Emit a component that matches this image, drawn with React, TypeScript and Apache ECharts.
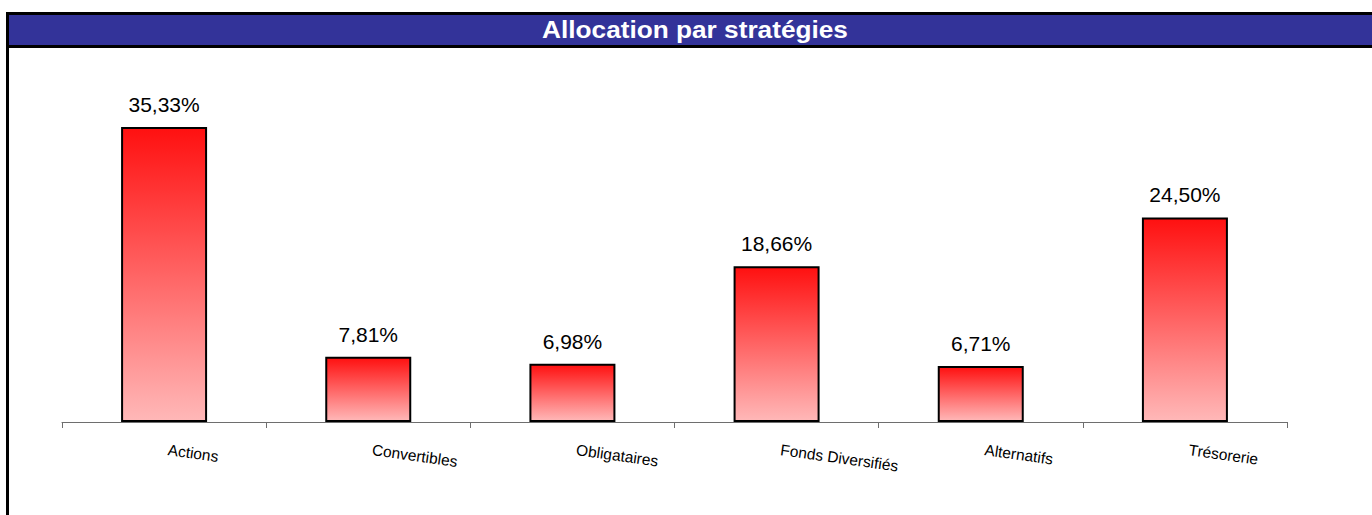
import React, { useEffect, useRef } from "react";
import * as echarts from "echarts";

const categories = ["Actions", "Convertibles", "Obligataires", "Fonds Diversifiés", "Alternatifs", "Trésorerie"];
const values = [35.33, 7.81, 6.98, 18.66, 6.71, 24.5];
const titleText = "Allocation par stratégies";

export default function App() {
  const ref = useRef<HTMLDivElement>(null);
  useEffect(() => {
    const chart = echarts.init(ref.current!, null, { renderer: "svg" });
    chart.setOption({
      animation: false,
      backgroundColor: "#ffffff",
      graphic: [
        { type: "rect", left: 6, top: 12, shape: { width: 1380, height: 3 }, style: { fill: "#000" } },
        { type: "rect", left: 6, top: 12, shape: { width: 3, height: 510 }, style: { fill: "#000" } },
        { type: "rect", left: 9, top: 15, shape: { width: 1370, height: 30 }, style: { fill: "#333399" } },
        { type: "rect", left: 9, top: 45, shape: { width: 1370, height: 3 }, style: { fill: "#000" } },
        {
          type: "text",
          x: 695,
          y: 30,
          scaleX: 1.14,
          style: {
            text: titleText,
            fill: "#ffffff",
            font: "bold 23px 'Liberation Sans', Arial, sans-serif",
            align: "center",
            verticalAlign: "middle",
          },
        },
      ],
      grid: { left: 62, right: 85, top: 88, bottom: 93, containLabel: false },
      xAxis: {
        type: "category",
        data: categories,
        axisLine: { lineStyle: { color: "#6e6e6e", width: 1 } },
        axisTick: { show: true, length: 6, lineStyle: { color: "#6e6e6e" } },
        axisLabel: {
          rotate: -8,
          align: "left",
          margin: 27,
          padding: [0, 0, 0, 4],
          color: "#000",
          fontSize: 15.5,
          fontFamily: "'Liberation Sans', Arial, sans-serif",
          interval: 0,
        },
      },
      yAxis: {
        type: "value",
        min: 0,
        max: 40,
        show: false,
        splitLine: { show: false },
      },
      series: [
        {
          type: "bar",
          data: values,
          barWidth: 86,
          itemStyle: {
            borderColor: "#000",
            borderWidth: 2,
            color: new echarts.graphic.LinearGradient(0, 0, 0, 1, [
              { offset: 0, color: "#ff1010" },
              { offset: 1, color: "#ffb8b8" },
            ]),
          },
          label: {
            show: true,
            position: "top",
            distance: 12,
            color: "#000",
            fontSize: 21,
            fontFamily: "'Liberation Sans', Arial, sans-serif",
            formatter: (p: any) => p.value.toFixed(2).replace(".", ",") + "%",
          },
        },
      ],
    });
    return () => chart.dispose();
  }, []);
  return <div ref={ref} style={{ position: "absolute", left: 0, top: 0, width: 1372, height: 515 }} />;
}
